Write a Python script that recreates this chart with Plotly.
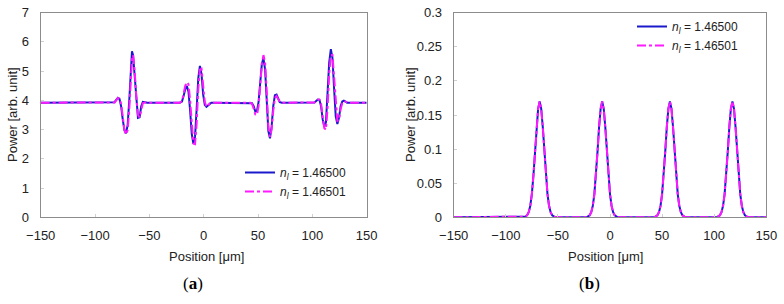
import plotly.graph_objects as go

# ---------------- data: panel (a) ----------------
pos_a = [-150, -84, -82, -80.5, -79, -77.5, -76, -74.5, -73, -71.5, -70, -68.5, -67, -66, -65, -63.5, -62, -60.5, -59, -57.5, -56, -54, -52,
         -22, -20, -18.5, -17, -15.5, -14, -12.5, -11, -9.5, -8, -6.5, -5, -3.5, -2, -0.5, 1, 2.5, 4, 5.5, 7, 9,
         43, 44.5, 46, 47.5, 49, 50.5, 52, 53.5, 55, 56.5, 58, 59.5, 61, 62.5, 64, 65.5, 67, 68.5, 70, 72,
         100, 102, 103.5, 105, 106.5, 108, 109.5, 111, 112.5, 114, 115.5, 117, 118.5, 120, 121.5, 123, 124.5, 126, 127.5, 129, 130.5, 132, 134,
         150]
power_a_1 = [3.92, 3.92, 3.94, 4.02, 4.09, 4.05, 3.80, 3.35, 2.98, 2.87, 3.15, 4.00, 5.20, 5.68, 5.55, 4.80, 3.95, 3.40, 3.42, 3.80, 3.95, 3.93, 3.92,
             3.92, 3.96, 4.15, 4.38, 4.49, 4.30, 3.65, 2.85, 2.51, 2.75, 3.70, 4.75, 5.18, 4.90, 4.20, 3.85, 3.78, 3.83, 3.90, 3.92, 3.92,
             3.92, 3.90, 3.80, 3.62, 3.63, 3.95, 4.60, 5.25, 5.44, 5.05, 4.00, 2.95, 2.70, 3.10, 3.80, 4.18, 4.20, 4.05, 3.94, 3.92,
             3.92, 3.93, 3.98, 4.03, 4.02, 3.80, 3.35, 3.10, 3.25, 4.20, 5.30, 5.75, 5.45, 4.40, 3.45, 3.19, 3.40, 3.80, 3.96, 3.99, 3.95, 3.92, 3.92,
             3.92]
power_a_2 = [3.92, 3.92, 3.93, 4.00, 4.08, 4.07, 3.88, 3.45, 3.00, 2.83, 2.98, 3.70, 4.85, 5.40, 5.55, 5.00, 4.10, 3.50, 3.42, 3.70, 3.90, 3.93, 3.92,
             3.92, 3.98, 4.22, 4.50, 4.62, 4.55, 4.00, 3.10, 2.52, 2.50, 3.20, 4.40, 5.05, 5.08, 4.45, 3.95, 3.78, 3.82, 3.90, 3.92, 3.92,
             3.92, 3.88, 3.72, 3.52, 3.50, 3.80, 4.50, 5.25, 5.55, 5.30, 4.30, 3.10, 2.75, 3.00, 3.65, 4.08, 4.15, 4.05, 3.95, 3.92,
             3.92, 3.93, 3.97, 4.02, 4.03, 3.88, 3.45, 3.05, 3.00, 3.75, 4.90, 5.55, 5.55, 4.80, 3.80, 3.30, 3.32, 3.70, 3.90, 3.98, 3.96, 3.92, 3.92,
             3.92]

# ---------------- data: panel (b) ----------------
pos_b = [-150,
         -82.5, -81, -79.5, -78, -76.5, -75, -73.5, -72, -70.5, -69, -67.5, -66, -64.5, -63, -61.5, -60, -58.5, -57, -55.5, -54, -52.5,
         -22.5, -21, -19.5, -18, -16.5, -15, -13.5, -12, -10.5, -9, -7.5, -6, -4.5, -3, -1.5, 0, 1.5, 3, 4.5, 6, 7.5,
         42.5, 44, 45.5, 47, 48.5, 50, 51.5, 53, 54.5, 56, 57.5, 59, 60.5, 62, 63.5, 65, 66.5, 68, 69.5, 71, 72.5,
         102.5, 104, 105.5, 107, 108.5, 110, 111.5, 113, 114.5, 116, 117.5, 119, 120.5, 122, 123.5, 125, 126.5, 128, 129.5, 131, 132.5,
         150]
power_b_1 = [0.0,
             0.0, 0.001, 0.003, 0.0075, 0.017, 0.034, 0.061, 0.096, 0.132, 0.159, 0.170, 0.159, 0.132, 0.096, 0.061, 0.034, 0.017, 0.0075, 0.003, 0.001, 0.0,
             0.0, 0.001, 0.003, 0.0075, 0.017, 0.034, 0.061, 0.096, 0.132, 0.159, 0.170, 0.159, 0.132, 0.096, 0.061, 0.034, 0.017, 0.0075, 0.003, 0.001, 0.0,
             0.0, 0.001, 0.003, 0.0075, 0.017, 0.034, 0.061, 0.096, 0.132, 0.159, 0.170, 0.159, 0.132, 0.096, 0.061, 0.034, 0.017, 0.0075, 0.003, 0.001, 0.0,
             0.0, 0.001, 0.003, 0.0075, 0.017, 0.034, 0.061, 0.096, 0.132, 0.159, 0.170, 0.159, 0.132, 0.096, 0.061, 0.034, 0.017, 0.0075, 0.003, 0.001, 0.0,
             0.0]
power_b_2 = [0.0,
             0.0, 0.001, 0.003, 0.0075, 0.017, 0.034, 0.061, 0.096, 0.132, 0.159, 0.170, 0.159, 0.132, 0.096, 0.061, 0.034, 0.017, 0.0075, 0.003, 0.001, 0.0,
             0.0, 0.001, 0.003, 0.0075, 0.017, 0.034, 0.061, 0.096, 0.132, 0.159, 0.170, 0.159, 0.132, 0.096, 0.061, 0.034, 0.017, 0.0075, 0.003, 0.001, 0.0,
             0.0, 0.001, 0.003, 0.0075, 0.017, 0.034, 0.061, 0.096, 0.132, 0.159, 0.170, 0.159, 0.132, 0.096, 0.061, 0.034, 0.017, 0.0075, 0.003, 0.001, 0.0,
             0.0, 0.001, 0.003, 0.0075, 0.017, 0.034, 0.061, 0.096, 0.132, 0.159, 0.170, 0.159, 0.132, 0.096, 0.061, 0.034, 0.017, 0.0075, 0.003, 0.001, 0.0,
             0.0]

x_ticks = [-150, -100, -50, 0, 50, 100, 150]
y_ticks_a = [0, 1, 2, 3, 4, 5, 6, 7]
y_ticks_b = [0, 0.05, 0.1, 0.15, 0.2, 0.25, 0.3]
y_tick_text_b = ["0", "0.05", "0.1", "0.15", "0.2", "0.25", "0.3"]
names = ["<i>n</i><sub><i>l</i></sub> = 1.46500", "<i>n</i><sub><i>l</i></sub> = 1.46501"]
x_title = "Position [μm]"
y_title = "Power [arb. unit]"

BLUE = "#1a1acc"
MAGENTA = "#ff1aff"
W, H = 784, 304
FONT = "Liberation Sans, Arial, sans-serif"
DASH = "9px,3px,3px,3px"

fig = go.Figure()
fig.add_trace(go.Scatter(x=pos_a, y=power_a_1, mode="lines", name=names[0],
                         line=dict(color=BLUE, width=2), xaxis="x", yaxis="y", legend="legend"))
fig.add_trace(go.Scatter(x=pos_a, y=power_a_2, mode="lines", name=names[1],
                         line=dict(color=MAGENTA, width=2, dash=DASH), xaxis="x", yaxis="y", legend="legend"))
fig.add_trace(go.Scatter(x=pos_b, y=power_b_1, mode="lines", name=names[0],
                         line=dict(color=BLUE, width=2), xaxis="x2", yaxis="y2", legend="legend2"))
fig.add_trace(go.Scatter(x=pos_b, y=power_b_2, mode="lines", name=names[1],
                         line=dict(color=MAGENTA, width=2, dash=DASH), xaxis="x2", yaxis="y2", legend="legend2"))

def px_x(p):
    return p / W

def px_y(p):
    return 1 - p / H

axis_common = dict(showline=True, linecolor="#8c8c8c", linewidth=1, mirror=True,
                   showgrid=False, zeroline=False, ticks="inside", ticklen=3,
                   tickcolor="#d0d0d0", automargin=False,
                   tickfont=dict(family=FONT, size=13, color="#222"))

fig.update_layout(
    width=W, height=H,
    margin=dict(l=0, r=0, t=0, b=0, pad=0, autoexpand=False),
    paper_bgcolor="white", plot_bgcolor="white",
    font=dict(family=FONT, size=13, color="#222"),
    xaxis=dict(domain=[px_x(40.7), px_x(366.7)], range=[-150, 150], tickvals=x_ticks,
               anchor="y", ticklabelstandoff=6, **axis_common),
    yaxis=dict(domain=[px_y(217.3), px_y(12.7)], range=[0, 7], tickvals=y_ticks_a,
               anchor="x", ticklabelstandoff=8, **axis_common),
    xaxis2=dict(domain=[px_x(453.7), px_x(766.3)], range=[-150, 150], tickvals=x_ticks,
                anchor="y2", ticklabelstandoff=6, **axis_common),
    yaxis2=dict(domain=[px_y(217.3), px_y(12.7)], range=[0, 0.3], tickvals=y_ticks_b,
                ticktext=y_tick_text_b, anchor="x2", ticklabelstandoff=8, **axis_common),
    legend=dict(x=px_x(240), y=px_y(158), xanchor="left", yanchor="top",
                bgcolor="rgba(0,0,0,0)", font=dict(family=FONT, size=12, color="#222"),
                tracegroupgap=0),
    legend2=dict(x=px_x(632), y=px_y(12), xanchor="left", yanchor="top",
                 bgcolor="rgba(0,0,0,0)", font=dict(family=FONT, size=12, color="#222"),
                 tracegroupgap=0),
    showlegend=True,
)

ann_font = dict(family=FONT, size=13, color="#222")
lab_font = dict(family="Liberation Serif, Times New Roman, serif", size=17, color="#000")
annotations = [
    dict(text=x_title, x=px_x(207), y=px_y(256), font=ann_font),
    dict(text=x_title, x=px_x(605), y=px_y(256), font=ann_font),
    dict(text=y_title, x=px_x(12), y=px_y(115), textangle=-90, font=ann_font),
    dict(text=y_title, x=px_x(410), y=px_y(115), textangle=-90, font=ann_font),
    dict(text="(<b>a</b>)", x=px_x(193), y=px_y(283), font=lab_font),
    dict(text="(<b>b</b>)", x=px_x(589), y=px_y(283), font=lab_font),
]
for a in annotations:
    a.update(xref="paper", yref="paper", showarrow=False, xanchor="center", yanchor="middle")
fig.update_layout(annotations=annotations)

fig.write_html("out.html", config={"displayModeBar": False},
               post_script="document.body.style.margin='0';document.body.style.overflow='hidden';")
